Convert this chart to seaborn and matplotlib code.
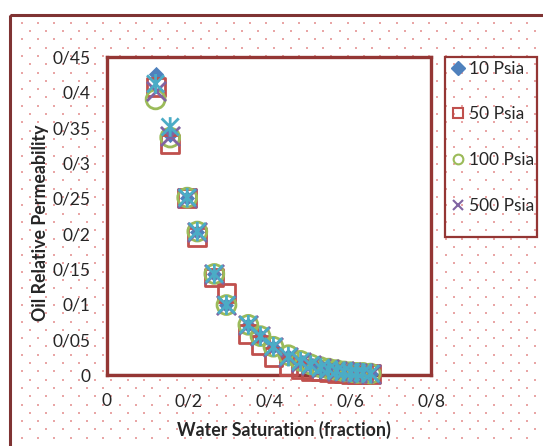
import numpy as np
import pandas as pd
import seaborn as sns
import matplotlib.pyplot as plt
from matplotlib.lines import Line2D
from matplotlib.patches import Rectangle
from matplotlib.path import Path

# Data
sw = [0.120, 0.156, 0.198, 0.223, 0.265, 0.295, 0.349, 0.379, 0.411, 0.448,
      0.478, 0.503, 0.528, 0.547, 0.567, 0.585, 0.602, 0.617, 0.632, 0.651]
kro_10 = [0.426, 0.340, 0.251, 0.203, 0.143, 0.099, 0.071, 0.055, 0.040, 0.027,
          0.019, 0.014, 0.010, 0.008, 0.006, 0.005, 0.004, 0.003, 0.003, 0.002]
kro_50 = [0.407, 0.327, 0.251, 0.195, 0.138, 0.116, 0.058, 0.042, 0.025, 0.013,
          0.008, 0.006, 0.005, 0.004, 0.003, 0.003, 0.002, 0.002, 0.001, 0.001]
kro_100 = [0.390, 0.336, 0.251, 0.203, 0.143, 0.099, 0.071, 0.055, 0.040, 0.028,
           0.020, 0.015, 0.011, 0.009, 0.007, 0.005, 0.004, 0.003, 0.003, 0.002]
kro_500 = [0.402, 0.338, 0.251, 0.203, 0.143, 0.099, 0.071, 0.055, 0.040, 0.026,
           0.019, 0.014, 0.010, 0.008, 0.006, 0.005, 0.004, 0.003, 0.003, 0.002]
kro_extra = [0.412, 0.351, 0.251, 0.203, 0.143, 0.099, 0.071, 0.055, 0.040, 0.026,
             0.019, 0.014, 0.010, 0.008, 0.006, 0.005, 0.004, 0.003, 0.003, 0.002]

legend_labels = ['10 Psia', '50 Psia', '100 Psia', '500 Psia']
x_ticks = [0, 0.2, 0.4, 0.6, 0.8]
x_ticklabels = ['0', '0/2', '0/4', '0/6', '0/8']
y_ticks = [0, 0.05, 0.1, 0.15, 0.2, 0.25, 0.3, 0.35, 0.4, 0.45]
y_ticklabels = ['0', '0/05', '0/1', '0/15', '0/2', '0/25', '0/3', '0/35', '0/4', '0/45']

sns.set_style('white')
plt.rcParams['font.family'] = ['Lato', 'DejaVu Sans']

blue, red, green, purple, cyan = '#4F81BD', '#C0504D', '#9BBB59', '#8064A2', '#4BACC6'
frame_col = '#943634'

W, H = 543, 446
fig = plt.figure(figsize=(W / 100, H / 100), dpi=100)

# dotted chart-area background and outer border (pixel coordinates)
bg = fig.add_axes([0, 0, 1, 1], zorder=-1)
bg.set_xlim(0, W)
bg.set_ylim(H, 0)
bg.axis('off')
dots_x, dots_y = [], []
for i, yy in enumerate(np.arange(22.7, H, 8.3)):
    start = 21.7 if i % 2 == 0 else 29.9
    for xx in np.arange(start, W, 16.3):
        dots_x.append(xx)
        dots_y.append(yy)
bg.scatter(dots_x, dots_y, s=2.2, marker='s', color='#E9A6A6', linewidths=0)
bg.add_patch(Rectangle((10, 15), 700, 600, fill=False, ec='#7F3333', lw=2.2))
# legend box
bg.add_patch(Rectangle((445, 57), 92, 180, fill=False, ec=frame_col, lw=1.6))

# plot area
ax = fig.add_axes([107 / W, 1 - 375 / H, 324 / W, 318 / H], zorder=1)
ax.set_facecolor('white')

star = Path([(-1, -1), (1, 1), (-1, 1), (1, -1), (0, -1.15), (0, 1.15)],
            [Path.MOVETO, Path.LINETO] * 3)

sns.scatterplot(x=sw, y=kro_10, marker='D', color=blue, s=60, linewidth=0,
                ax=ax, clip_on=False, zorder=3, legend=False)
sns.scatterplot(x=sw, y=kro_50, marker='s', color=red, facecolor='none', edgecolor=red,
                s=165, linewidth=2, ax=ax, clip_on=False, zorder=4, legend=False)
sns.scatterplot(x=sw, y=kro_100, marker='o', color=green, facecolor='none', edgecolor=green,
                s=185, linewidth=2, ax=ax, clip_on=False, zorder=5, legend=False)
sns.scatterplot(x=sw, y=kro_500, marker='x', color=purple, s=190, linewidth=2,
                ax=ax, clip_on=False, zorder=6, legend=False)
sns.scatterplot(x=sw, y=kro_extra, marker=star, color=cyan, facecolor='none', edgecolor=cyan,
                s=200, linewidth=2, ax=ax, clip_on=False, zorder=7, legend=False)

ax.set_xlim(0, 0.8)
ax.set_ylim(0, 0.45)
ax.set_xticks(x_ticks)
ax.set_xticklabels(x_ticklabels)
ax.set_yticks(y_ticks)
ax.set_yticklabels(y_ticklabels)
ax.tick_params(axis='x', length=0, pad=13, labelsize=12.5)
ax.tick_params(axis='y', length=0, pad=12, labelsize=12.5)
for sp in ax.spines.values():
    sp.set_visible(True)
    sp.set_color(frame_col)
    sp.set_linewidth(2.4)
ax.axhline(0, color='#808080', lw=1.6, zorder=2)
ax.axvline(0, color='#808080', lw=1.6, zorder=2)

ax.set_xlabel('Water Saturation (fraction)', fontsize=12.8, fontweight='bold')
ax.set_ylabel('Oil Relative Permeability', fontsize=12.8, fontweight='bold')
ax.xaxis.set_label_coords(0.546, -0.145)
ax.yaxis.set_label_coords(-0.18, 0.478)

handles = [
    Line2D([], [], ls='none', marker='D', ms=7, color=blue, mec=blue),
    Line2D([], [], ls='none', marker='s', ms=7, mfc='none', mec=red, mew=1.5),
    Line2D([], [], ls='none', marker='o', ms=7, mfc='none', mec=green, mew=1.5),
    Line2D([], [], ls='none', marker='x', ms=7, color=purple, mew=1.5),
]
fig.legend(handles, legend_labels, loc='upper left', bbox_to_anchor=(449 / W, 1 - 58 / H),
           frameon=False, fontsize=12.5, handlelength=0.7, handletextpad=0.3,
           labelspacing=1.72, borderaxespad=0, borderpad=0.15)

fig.savefig('out.png', dpi=100)
